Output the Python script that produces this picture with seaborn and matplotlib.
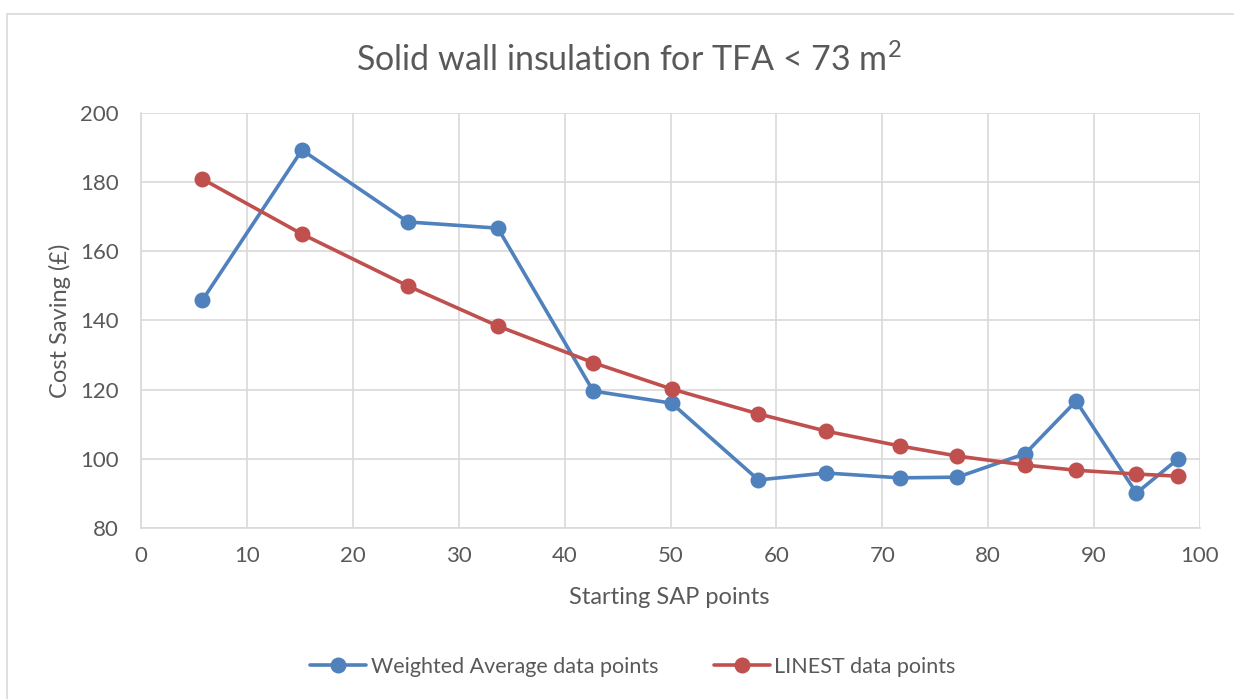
import matplotlib
matplotlib.use("Agg")
import matplotlib.pyplot as plt
import seaborn as sns
import pandas as pd
from matplotlib.lines import Line2D

sap_points = [5.8, 15.2, 25.2, 33.7, 42.7, 50.1, 58.3, 64.7, 71.7, 77.1, 83.5, 88.3, 94.0, 97.9]
weighted_avg = [145.9, 189.3, 168.5, 166.7, 119.6, 116.1, 93.9, 95.9, 94.5, 94.7, 101.5, 116.7, 90.1, 99.9]
linest = [180.9, 165.0, 150.0, 138.4, 127.8, 120.2, 113.0, 108.0, 103.7, 100.8, 98.2, 96.7, 95.6, 95.0]
series_names = ["Weighted Average data points", "LINEST data points"]
x_ticks = [0, 10, 20, 30, 40, 50, 60, 70, 80, 90, 100]
y_ticks = [80, 100, 120, 140, 160, 180, 200]

sns.set_theme(style="whitegrid")
plt.rcParams['font.family'] = ['Lato', 'DejaVu Sans']
plt.rcParams['mathtext.fontset'] = 'custom'
plt.rcParams['mathtext.rm'] = 'Lato'
plt.rcParams['mathtext.it'] = 'Lato'

text_color = "#595959"
colors = ["#4F81BD", "#C0504D"]

df = pd.DataFrame({
    "x": sap_points * 2,
    "y": weighted_avg + linest,
    "series": [series_names[0]] * len(sap_points) + [series_names[1]] * len(sap_points),
})

fig = plt.figure(figsize=(12.34, 6.99), dpi=100)
ax = fig.add_axes([141/1234, 1 - 528/699, (1200-141)/1234, (528-113)/699])

for name, col in zip(series_names, colors):
    sub = df[df["series"] == name]
    sns.lineplot(data=sub, x="x", y="y", ax=ax, color=col, marker="o", markersize=11.5,
                 markeredgewidth=0, linewidth=2.6, sort=False, legend=False)

ax.set_xlim(0, 100)
ax.set_ylim(80, 200)
ax.set_xticks(x_ticks)
ax.set_yticks(y_ticks)
ax.grid(True, color="#D9D9D9", linewidth=1.2)
for s in ["top", "right"]:
    ax.spines[s].set_visible(False)
for s in ["left", "bottom"]:
    ax.spines[s].set_color("#D9D9D9")
    ax.spines[s].set_linewidth(1.2)
ax.set_facecolor("white")
ax.tick_params(axis="both", colors=text_color, labelsize=16, length=0)
ax.tick_params(axis="y", pad=16)
ax.tick_params(axis="x", pad=13)
ax.set_xlabel("Starting SAP points", fontsize=17, color=text_color)
ax.set_ylabel("Cost Saving (£)", fontsize=17, color=text_color)
ax.xaxis.set_label_coords((669 - 141) / 1059, (528 - 587) / 415)
ax.yaxis.set_label_coords((71 - 141) / 1059, 0.5)

fig.text(629 / 1234, 1 - 60/699, "Solid wall insulation for TFA < 73 m$^2$",
         ha="center", va="center", fontsize=24.5, color=text_color)

handles = [Line2D([0], [0], color=c, marker="o", markersize=11.5, markeredgewidth=0, linewidth=2.6)
           for c in colors]
fig.legend(handles, series_names, loc="center", bbox_to_anchor=(633 / 1234, 1 - 667/699), ncol=2,
           frameon=False, fontsize=15.5, labelcolor=text_color, handlelength=2.6, columnspacing=2.6,
           handletextpad=0.2)

# outer chart border
fig.add_artist(Line2D([7/1234, 7/1234], [0, 1 - 14/699], transform=fig.transFigure,
                      color="#D9D9D9", linewidth=1.2))
fig.add_artist(Line2D([7/1234, 1], [1 - 14/699, 1 - 14/699], transform=fig.transFigure,
                      color="#D9D9D9", linewidth=1.2))

fig.savefig("out.png", dpi=100, facecolor="white")
